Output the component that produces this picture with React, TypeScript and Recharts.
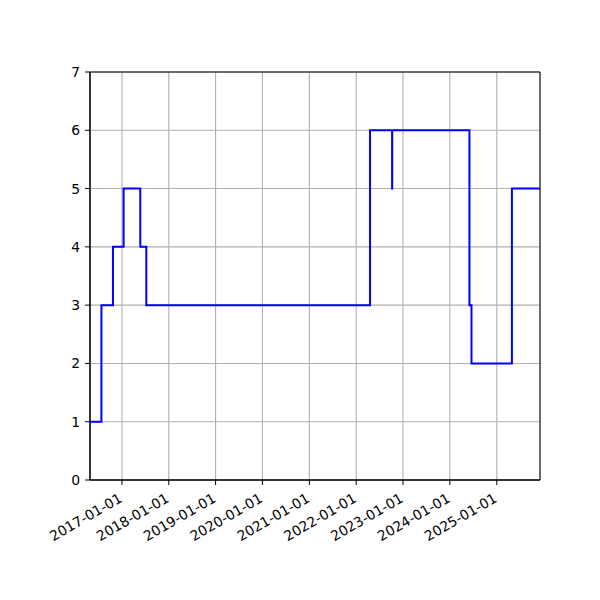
import React from 'react';
import { LineChart, Line, XAxis, YAxis, CartesianGrid, ReferenceArea } from 'recharts';

const dates = [
  '2016-04-27', '2016-07-25', '2016-10-23', '2017-01-14', '2017-05-24', '2017-07-10',
  '2022-04-19', '2022-10-08', '2022-10-09', '2024-06-02', '2024-06-18', '2025-04-29', '2025-12-04',
];
const values = [1, 3, 4, 5, 4, 3, 6, 5, 6, 3, 2, 5, 5];
const tickLabels = [
  '2017-01-01', '2018-01-01', '2019-01-01', '2020-01-01', '2021-01-01',
  '2022-01-01', '2023-01-01', '2024-01-01', '2025-01-01',
];
const yTicks = [0, 1, 2, 3, 4, 5, 6, 7];

const toTs = (s: string) => Date.parse(s + 'T00:00:00Z');
const data = dates.map((d, i) => ({ t: toTs(d), v: values[i] }));
const xTicks = tickLabels.map(toTs);
const xMin = data[0].t;
const xMax = data[data.length - 1].t;

const fmt = (ts: number) => new Date(ts).toISOString().slice(0, 10);

const FONT = 'DejaVu Sans';

const XTick = (props: any) => {
  const { x, y, payload } = props;
  return (
    <g transform={`translate(${x - 4},${y + 5})`}>
      <text
        transform="rotate(-30)"
        textAnchor="end"
        dy="0.75em"
        fontSize={13.9}
        fontFamily={FONT}
        fill="#000"
      >
        {fmt(payload.value)}
      </text>
    </g>
  );
};

export default function App() {
  return (
    <div style={{ position: 'absolute', left: 0, top: 0, width: 600, height: 600, background: '#fff' }}>
      <LineChart width={600} height={600} data={data} margin={{ top: 72, right: 60, bottom: 0, left: 0 }}>
        <CartesianGrid stroke="#b0b0b0" strokeWidth={1.1} />
        <XAxis
          dataKey="t"
          type="number"
          scale="time"
          domain={[xMin, xMax]}
          ticks={xTicks}
          tick={<XTick />}
          height={120}
          tickSize={5}
          stroke="#000"
          tickLine={{ stroke: '#000' }}
          axisLine={{ stroke: '#000' }}
          interval={0}
          allowDataOverflow
        />
        <YAxis
          type="number"
          domain={[0, 7]}
          ticks={yTicks}
          width={90}
          tickSize={5}
          tickMargin={5}
          stroke="#000"
          tick={{ fontSize: 13.9, fontFamily: FONT, fill: '#000' }}
          interval={0}
          allowDataOverflow
        />
        <Line
          type="stepAfter"
          dataKey="v"
          stroke="#0000ff"
          strokeWidth={2}
          dot={false}
          isAnimationActive={false}
        />
        <ReferenceArea x1={xMin} x2={xMax} y1={0} y2={7} fill="none" stroke="#000" strokeWidth={1} />
      </LineChart>
    </div>
  );
}
